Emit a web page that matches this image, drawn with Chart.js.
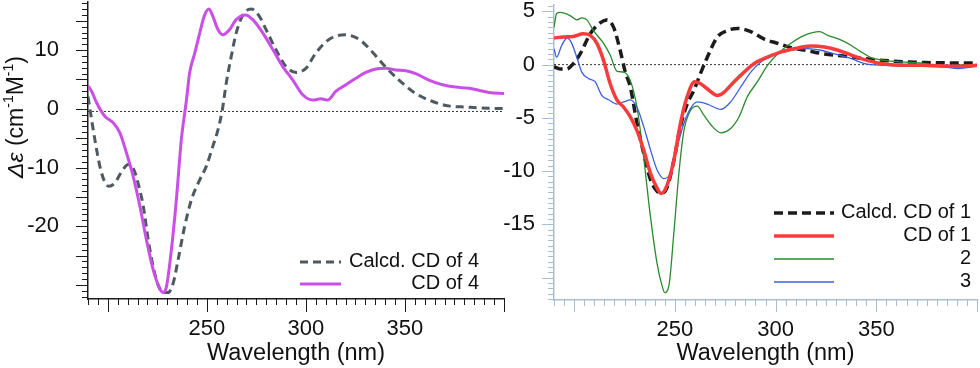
<!DOCTYPE html>
<html>
<head>
<meta charset="utf-8">
<script src="https://cdn.jsdelivr.net/npm/chart.js@4.4.1/dist/chart.umd.min.js"></script>
<style>
  html, body { margin: 0; padding: 0; background: #fff; }
  body { width: 980px; height: 368px; position: relative; overflow: hidden; }
  #c1 { position: absolute; left: 0; top: 0; }
  #c2 { position: absolute; left: 490px; top: 0; }
</style>
</head>
<body>
<canvas id="c1" width="512" height="368"></canvas>
<canvas id="c2" width="490" height="368"></canvas>
<script>
// ---- data (wavelength in nm, delta epsilon) ----
const wlRange = [190, 400];

// left panel, compound 4
const calc4Wl = [190, 191.3, 193.5, 196, 198.6, 200.6, 203.6, 207, 210.3, 212.8, 215.3, 217.9, 220.4, 222.9, 225.4, 227.9, 230.4, 233, 235.5, 238.8, 242.2, 246.4, 249.7, 253, 255.6, 257.8, 259.8, 262.3, 264.8, 268.2, 272.4, 276.6, 279.9, 285, 290, 295, 300, 305, 312, 320, 327, 334, 340, 347, 355, 364, 372, 381, 392, 400];
const calc4Cd = [2.1, -0.7, -5.3, -9.8, -12.6, -13.2, -12.6, -10.7, -9.5, -10.1, -12.7, -16.6, -22.3, -26.9, -30.0, -31.3, -31.3, -29.7, -25.7, -20.0, -15.5, -12.1, -9.8, -6.4, -3.6, -0.2, 4.4, 8.9, 12.9, 16.0, 17.0, 15.7, 13.5, 10.0, 7.2, 6.2, 6.9, 9.5, 11.9, 12.6, 11.8, 9.5, 7.2, 4.9, 2.7, 1.25, 0.5, 0.3, 0.1, 0.05];

const exp4Wl = [190, 191.8, 194.4, 198.6, 202.8, 206.1, 209.5, 212.8, 216.2, 219.5, 222.9, 226.2, 227.9, 229.6, 232.1, 234.6, 237.1, 239.7, 241.3, 243.9, 246.4, 248.9, 251.1, 253.1, 255.6, 258.1, 261.5, 264.8, 269.5, 273.2, 278.3, 283.3, 288.3, 293.4, 298.4, 303.4, 307.6, 311, 315.2, 320.2, 325.2, 330.3, 335.3, 340.3, 345.4, 350.4, 355.4, 362.1, 368.9, 375.6, 382.3, 392.3, 400];
const exp4Cd = [3.9, 3.0, 1.0, -1.3, -2.4, -4.1, -7.6, -11.5, -16.6, -22.3, -27.4, -30.6, -31.3, -30.3, -24.0, -15.5, -5.3, 1.5, 6.1, 9.5, 12.9, 16.0, 17.0, 15.7, 13.5, 12.6, 13.5, 15.2, 16.0, 15.2, 12.9, 10.1, 7.2, 4.9, 2.4, 1.5, 1.7, 1.5, 3.0, 4.1, 5.2, 6.2, 6.8, 6.9, 6.6, 6.5, 6.0, 4.9, 4.1, 3.7, 3.5, 2.8, 2.6];

// right panel, compounds 1-3
const calc1Wl = [190, 193, 196.3, 199.6, 203, 208, 212.1, 216.3, 219.6, 222.9, 225.4, 227.9, 231.2, 234.5, 237.9, 241.2, 243.2, 246.2, 249.5, 252.8, 256.1, 259.5, 262.8, 266.1, 271.1, 276.1, 281.1, 287.7, 294.4, 301, 307.6, 316, 324.3, 334.2, 344.2, 357.5, 374.1, 400];
const calc1Cd = [-0.2, -0.4, -0.4, 0.1, 1.0, 2.9, 3.8, 4.2, 3.5, 1.3, -0.7, -2.1, -5.5, -8.3, -10.8, -11.9, -12.1, -11.5, -9.0, -5.8, -3.7, -2.4, -0.8, 0.7, 2.6, 3.2, 3.4, 3.1, 2.4, 2.0, 1.6, 1.3, 1.0, 0.8, 0.56, 0.34, 0.2, 0.15];

const exp1Wl = [190, 194.7, 199.6, 204.6, 208, 211.3, 214.6, 217.9, 221.2, 224.6, 227.9, 231.2, 234.5, 237.9, 241.2, 243.2, 246.2, 249.5, 252.8, 256.1, 259.8, 262.8, 266.9, 271.1, 274.4, 279.4, 284.4, 289.4, 296, 302.7, 309.3, 317.6, 324.3, 331, 337.6, 344.2, 350.9, 357.5, 374.1, 390.7, 400];
const exp1Cd = [2.5, 2.6, 2.65, 2.9, 2.75, 2.0, 0.4, -1.8, -3.3, -4.0, -4.9, -6.2, -8.0, -10.2, -11.6, -12.1, -11.3, -9.0, -5.5, -3.0, -1.6, -1.8, -2.4, -2.9, -2.6, -1.6, -0.7, 0.1, 0.7, 1.2, 1.5, 1.75, 1.65, 1.35, 0.9, 0.47, 0.15, 0.0, -0.06, -0.15, -0.06];

const cmp2Wl = [190, 191.3, 193, 198, 201.3, 203.8, 206.3, 209.6, 214.6, 217.9, 221.2, 224.6, 227.9, 231.2, 234.5, 237.9, 241.2, 243.7, 245, 247, 249.5, 252, 254.5, 257.8, 261.1, 264.4, 268.6, 272.8, 277.7, 281.9, 286, 291, 296, 301, 307.6, 314.3, 321.8, 325.9, 332.6, 337.6, 342.5, 347.5, 354.2, 362.5, 374.1, 382.4, 390.7, 400];
const cmp2Cd = [3.5, 4.8, 4.9, 4.6, 4.2, 4.4, 4.2, 3.2, 2.0, 0.9, -0.6, -0.7, -1.5, -4.0, -8.7, -14.3, -18.7, -20.8, -21.4, -20.8, -15.8, -10.2, -6.2, -4.3, -3.9, -4.75, -5.8, -6.4, -6.0, -4.9, -3.0, -1.6, -0.06, 1.0, 2.0, 2.75, 3.1, 2.75, 2.3, 1.8, 1.2, 0.65, 0.4, 0.25, 0.1, -0.2, -0.06, 0.03];

const cmp3Wl = [190, 191.3, 193.8, 196.6, 198.8, 201.3, 203.8, 207.1, 210.4, 213.8, 217.1, 221.2, 224.6, 227.9, 231.2, 234.5, 237.9, 241.2, 244.5, 247.8, 251.2, 254.5, 257.8, 261.1, 266.1, 272.8, 277.7, 282.7, 287.7, 292.7, 299.3, 307.6, 316, 322.6, 329.3, 337.6, 344.2, 354.2, 365.8, 382.4, 390.7, 400];
const cmp3Cd = [1.5, 0.7, 1.8, 2.5, 2.0, 0.7, -0.7, -1.3, -1.6, -2.9, -3.3, -3.7, -3.5, -3.3, -4.0, -5.8, -8.0, -9.9, -10.7, -10.2, -7.7, -5.5, -4.1, -3.5, -3.7, -4.2, -3.5, -2.1, -0.7, 0.25, 0.9, 1.35, 1.5, 1.35, 1.0, 0.56, 0.1, -0.06, -0.15, -0.2, -0.37, -0.15];

// axes
const leftYRange = [-32.4, 18.2];
const rightYRange = [-22.1, 5.6];
const xTickLabels = [250, 300, 350];
const leftYTickLabels = [10, 0, -10, -20];
const rightYTickLabels = [5, 0, -5, -10, -15];
const leftZero = -0.45;
const rightZero = 0;

const FONT = '"Liberation Sans", Arial, sans-serif';

const pts = (xs, ys) => xs.map((x, i) => ({ x: x, y: ys[i] }));
const flat = (v) => wlRange.map((x) => ({ x: x, y: v }));

// minor/major tick marks drawn outward from the axis lines
const tickMarks = {
  id: 'tickMarks',
  afterDraw(chart, args, o) {
    const ctx = chart.ctx;
    const xs = chart.scales.x, ys = chart.scales.y;
    const area = chart.chartArea;
    ctx.save();
    ctx.strokeStyle = o.color;
    ctx.lineWidth = 1;
    ctx.beginPath();
    const mark = (scale, minor, major, longLen, shortLen, horiz) => {
      const k0 = Math.ceil(scale.min / minor - 1e-6);
      for (let k = k0; k * minor <= scale.max + 1e-6; k++) {
        const v = k * minor;
        const isMajor = Math.abs(v / major - Math.round(v / major)) < 1e-6;
        const len = isMajor ? longLen : shortLen;
        const p = Math.round(scale.getPixelForValue(v)) + 0.5;
        if (horiz) {
          ctx.moveTo(p, area.bottom);
          ctx.lineTo(p, area.bottom + len);
        } else {
          ctx.moveTo(area.left, p);
          ctx.lineTo(area.left - len, p);
        }
      }
    };
    mark(xs, o.xMinor, o.xMajor, o.xLong, o.xShort, true);
    mark(ys, o.yMinor, o.yMajor, o.yLong, o.yShort, false);
    ctx.stroke();
    ctx.restore();
  }
};

// legend with line sample on the left and right-aligned text
const sideLegend = {
  id: 'sideLegend',
  afterDraw(chart, args, o) {
    const ctx = chart.ctx;
    ctx.save();
    ctx.font = '20px ' + FONT;
    ctx.textAlign = 'right';
    ctx.textBaseline = 'middle';
    o.rows.forEach((label, i) => {
      const ds = chart.data.datasets.find((d) => d.label === label);
      const y = o.top + i * o.gap;
      ctx.strokeStyle = ds.borderColor;
      ctx.lineWidth = ds.borderWidth;
      ctx.setLineDash(ds.borderDash || []);
      ctx.beginPath();
      ctx.moveTo(o.x0, y);
      ctx.lineTo(o.x1, y);
      ctx.stroke();
      ctx.setLineDash([]);
      ctx.fillStyle = '#111';
      ctx.fillText(label, o.textRight, y - 1);
    });
    ctx.restore();
  }
};

// rotated y title with italic delta epsilon and superscripts
const yTitle = {
  id: 'yTitle',
  afterDraw(chart, args, o) {
    const ctx = chart.ctx;
    const parts = [
      { t: 'Δε', f: 'italic 23px ' + FONT, dy: 0 },
      { t: ' (cm', f: '23px ' + FONT, dy: 0 },
      { t: '-1', f: '14px ' + FONT, dy: -8 },
      { t: 'M', f: '23px ' + FONT, dy: 0 },
      { t: '-1', f: '14px ' + FONT, dy: -8 },
      { t: ')', f: '23px ' + FONT, dy: 0 }
    ];
    ctx.save();
    let w = 0;
    parts.forEach((p) => { ctx.font = p.f; p.w = ctx.measureText(p.t).width; w += p.w; });
    ctx.translate(o.cx, o.cy);
    ctx.rotate(-Math.PI / 2);
    ctx.fillStyle = '#111';
    ctx.textBaseline = 'middle';
    let x = -w / 2;
    parts.forEach((p) => { ctx.font = p.f; ctx.fillText(p.t, x, p.dy); x += p.w; });
    ctx.restore();
  }
};

function makeOptions(cfg) {
  return {
    responsive: false,
    animation: false,
    layout: { padding: { top: cfg.padTop, right: cfg.padRight, left: 0, bottom: 0 } },
    plugins: {
      legend: { display: false },
      tooltip: { enabled: false },
      tickMarks: cfg.ticks,
      sideLegend: cfg.legend,
      yTitle: cfg.yTitle || {}
    },
    elements: { point: { radius: 0 }, line: { cubicInterpolationMode: 'monotone', borderCapStyle: 'butt' } },
    scales: {
      x: {
        type: 'linear',
        min: wlRange[0],
        max: wlRange[1],
        grid: { display: false },
        border: { display: true, color: cfg.axisColor, width: 1.5 },
        afterBuildTicks: (s) => { s.ticks = xTickLabels.map((v) => ({ value: v })); },
        afterFit: (s) => { s.height = cfg.xHeight; s.paddingLeft = 0; s.paddingRight = 0; },
        ticks: { autoSkip: false, maxRotation: 0, padding: 9, color: '#111', font: { family: FONT, size: 22 } },
        title: { display: true, text: 'Wavelength (nm)', color: '#111', font: { family: FONT, size: 23.5 }, padding: { top: 0, bottom: 0 } }
      },
      y: {
        type: 'linear',
        min: cfg.yRange[0],
        max: cfg.yRange[1],
        grid: { display: false },
        border: { display: true, color: cfg.axisColor, width: 1.5 },
        afterBuildTicks: (s) => { s.ticks = cfg.yLabels.map((v) => ({ value: v })); },
        afterFit: (s) => { s.width = cfg.yWidth; s.paddingTop = 0; s.paddingBottom = 0; },
        ticks: { autoSkip: false, padding: cfg.yPad, color: '#111', font: { family: FONT, size: 22 } }
      }
    }
  };
}

new Chart(document.getElementById('c1'), {
  type: 'line',
  data: {
    datasets: [
      { label: 'zero', data: flat(leftZero), borderColor: '#333', borderWidth: 1, borderDash: [2, 2], order: 3 },
      { label: 'Calcd. CD of 4', data: pts(calc4Wl, calc4Cd), borderColor: '#4e5a61', borderWidth: 3, borderDash: [8, 5], order: 2 },
      { label: 'CD of 4', data: pts(exp4Wl, exp4Cd), borderColor: '#c94fe6', borderWidth: 3, order: 1 }
    ]
  },
  options: makeOptions({
    padTop: 2, padRight: 8, xHeight: 69, yWidth: 88, yPad: 21,
    yRange: leftYRange, yLabels: leftYTickLabels, axisColor: '#1a1a1a',
    ticks: { color: '#1a1a1a', xMinor: 5, xMajor: 50, xLong: 13, xShort: 6, yMinor: 1, yMajor: 5, yLong: 12, yShort: 6 },
    legend: { rows: ['Calcd. CD of 4', 'CD of 4'], top: 262, gap: 22, x0: 300, x1: 341, textRight: 479 },
    yTitle: { cx: 17, cy: 117 }
  }),
  plugins: [tickMarks, sideLegend, yTitle]
});

new Chart(document.getElementById('c2'), {
  type: 'line',
  data: {
    datasets: [
      { label: 'zero', data: flat(rightZero), borderColor: '#333', borderWidth: 1, borderDash: [2, 2], order: 6 },
      { label: 'Calcd. CD of 1', data: pts(calc1Wl, calc1Cd), borderColor: '#1c1c1c', borderWidth: 3.5, borderDash: [9, 5], order: 5 },
      { label: 'CD of 1', data: pts(exp1Wl, exp1Cd), borderColor: '#f83c3c', borderWidth: 3.5, order: 1 },
      { label: '2', data: pts(cmp2Wl, cmp2Cd), borderColor: '#2b8a2b', borderWidth: 1.3, order: 3 },
      { label: '3', data: pts(cmp3Wl, cmp3Cd), borderColor: '#3d5fe0', borderWidth: 1.3, order: 2 }
    ]
  },
  options: makeOptions({
    padTop: 5, padRight: 3, xHeight: 68, yWidth: 64, yPad: 11,
    yRange: rightYRange, yLabels: rightYTickLabels, axisColor: '#a9bfcf',
    ticks: { color: '#a9bfcf', xMinor: 5, xMajor: 50, xLong: 12, xShort: 6, yMinor: 0.5, yMajor: 5, yLong: 12, yShort: 6 },
    legend: { rows: ['Calcd. CD of 1', 'CD of 1', '2', '3'], top: 213, gap: 23, x0: 284, x1: 344, textRight: 481 }
  }),
  plugins: [tickMarks, sideLegend]
});
</script>
</body>
</html>
